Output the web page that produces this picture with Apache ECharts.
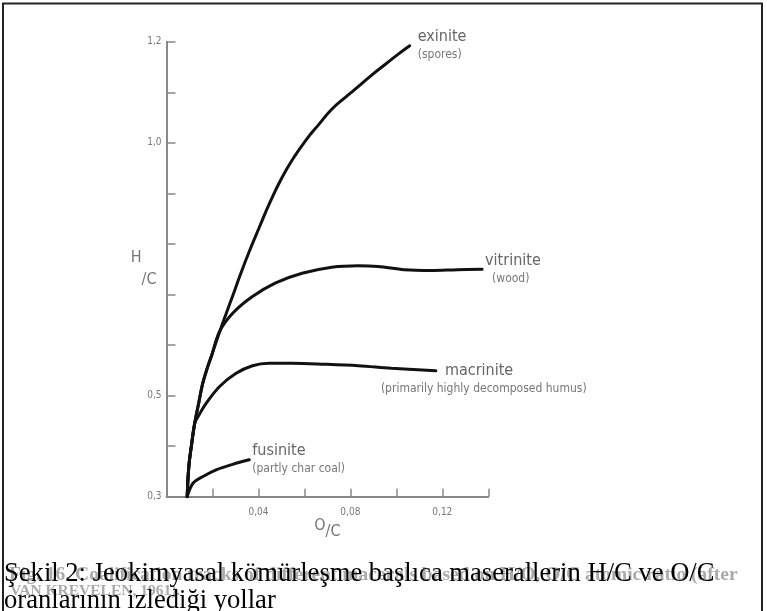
<!DOCTYPE html>
<html>
<head>
<meta charset="utf-8">
<script src="https://cdn.jsdelivr.net/npm/echarts@6/dist/echarts.min.js"></script>
<style>
html,body{margin:0;padding:0;background:#fff;}
#c{width:767px;height:611px;}
</style>
</head>
<body>
<div id="c"></div>
<script>
// ---- data (O/C, H/C atomic ratios) ----
const exiniteOC = [0.009, 0.0097, 0.0110, 0.0123, 0.0140, 0.0157, 0.0175, 0.0196, 0.0231, 0.0261, 0.0287, 0.0321, 0.0360, 0.0403, 0.0450, 0.0502, 0.0554, 0.0606, 0.0662, 0.0718, 0.0778, 0.0834, 0.0890, 0.0951, 0.1007, 0.1058];
const exiniteHC = [0.300, 0.359, 0.406, 0.446, 0.485, 0.523, 0.551, 0.579, 0.626, 0.664, 0.696, 0.739, 0.785, 0.832, 0.882, 0.931, 0.971, 1.005, 1.036, 1.066, 1.090, 1.111, 1.133, 1.155, 1.175, 1.192];

const vitriniteOC = [0.009, 0.0097, 0.0110, 0.0123, 0.0140, 0.0157, 0.0175, 0.0196, 0.0231, 0.0288, 0.0374, 0.0475, 0.059, 0.0719, 0.0834, 0.092, 0.1035, 0.115, 0.1265, 0.1373];
const vitriniteHC = [0.300, 0.359, 0.406, 0.446, 0.485, 0.523, 0.551, 0.579, 0.627, 0.663, 0.696, 0.723, 0.742, 0.754, 0.757, 0.7555, 0.749, 0.7475, 0.749, 0.750];

const macriniteOC = [0.009, 0.0097, 0.0110, 0.0123, 0.0137, 0.0173, 0.0231, 0.0303, 0.0374, 0.0446, 0.0547, 0.069, 0.0834, 0.0978, 0.1172];
const macriniteHC = [0.300, 0.359, 0.406, 0.446, 0.458, 0.485, 0.518, 0.544, 0.559, 0.564, 0.564, 0.562, 0.559, 0.554, 0.549];

const fusiniteOC = [0.009, 0.0116, 0.0159, 0.0216, 0.0288, 0.036];
const fusiniteHC = [0.300, 0.327, 0.340, 0.353, 0.364, 0.373];

const seriesNames = ['exinite', 'vitrinite', 'macrinite', 'fusinite'];
const seriesNotes = ['(spores)', '(wood)', '(primarily highly decomposed humus)', '(partly char coal)'];

const yLabelValues = [0.3, 0.5, 1.0, 1.2];
const yLabelTexts  = ['0,3', '0,5', '1,0', '1,2'];
const xLabelValues = [0.04, 0.08, 0.12];
const xLabelTexts  = ['0,04', '0,08', '0,12'];

const captionFaded1 = 'Fig. 16. Coalification tracks of different macerals based on H/O, O/C atomic ratio (after';
const captionFaded2 = 'VAN KREVELEN, 1961).';
const caption1 = 'Şekil 2: Jeokimyasal kömürleşme başlıca maserallerin H/C ve O/C';
const caption2 = 'oranlarının izlediği yollar';

// ---- chart ----
const FONT = "'DejaVu Sans Condensed', 'Liberation Sans Narrow', 'DejaVu Sans', sans-serif";
const GRAY = '#777';
const zip = (xs, ys) => xs.map((x, i) => [x, ys[i]]);
const lookup = (vals, texts) => v => {
  for (let i = 0; i < vals.length; i++) if (Math.abs(v - vals[i]) < 1e-6) return texts[i];
  return '';
};

const labelRich = {
  n: {fontFamily: FONT, fontSize: 16, color: '#666', lineHeight: 19},
  d: {fontFamily: FONT, fontSize: 12, color: '#777', lineHeight: 17},
  nm: {fontFamily: FONT, fontSize: 16, color: '#666', lineHeight: 19, padding: [0, 0, 0, 64]},
  dw: {fontFamily: FONT, fontSize: 12, color: '#777', lineHeight: 17, padding: [0, 0, 0, 7]}
};
const endLabels = [
  {fmt: '{n|' + seriesNames[0] + '}\n{d|' + seriesNotes[0] + '}', offset: [8, 0]},
  {fmt: '{n|' + seriesNames[1] + '}\n{dw|' + seriesNotes[1] + '}', offset: [3, 0]},
  {fmt: '{nm|' + seriesNames[2] + '}\n{d|' + seriesNotes[2] + '}', offset: [-55, 9]},
  {fmt: '{n|' + seriesNames[3] + '}\n{d|' + seriesNotes[3] + '}', offset: [3, 0]}
];
const smoothness = [0.5, 0.35, 0.35, 0.35];
const datas = [zip(exiniteOC, exiniteHC), zip(vitriniteOC, vitriniteHC), zip(macriniteOC, macriniteHC), zip(fusiniteOC, fusiniteHC)];

const chart = echarts.init(document.getElementById('c'), null, {renderer: 'canvas'});
chart.setOption({
  backgroundColor: '#fff',
  animation: false,
  grid: {left: 166.5, right: 278.7, top: 41.7, bottom: 114.3, containLabel: false},
  xAxis: {
    type: 'value', min: 0, max: 0.14, interval: 0.02,
    name: '{a|O}{b|/C}', nameLocation: 'middle', nameGap: 21, nameMoveOverlap: false,
    nameTextStyle: {rich: {
      a: {fontFamily: FONT, fontSize: 16, color: GRAY, verticalAlign: 'top', lineHeight: 22},
      b: {fontFamily: FONT, fontSize: 16, color: GRAY, verticalAlign: 'bottom', lineHeight: 22}
    }},
    axisLine: {show: true, onZero: false, lineStyle: {color: '#888', width: 2}},
    axisTick: {show: true, inside: true, length: 8, lineStyle: {color: '#888', width: 1.5}},
    axisLabel: {formatter: lookup(xLabelValues, xLabelTexts), margin: 11, fontFamily: FONT, fontSize: 10, color: GRAY},
    splitLine: {show: false}
  },
  yAxis: {
    type: 'value', min: 0.3, max: 1.2, interval: 0.1,
    name: '{a|H}{b|/C}', nameLocation: 'middle', nameRotate: 0, nameGap: 10, nameMoveOverlap: false,
    nameTextStyle: {align: 'right', rich: {
      a: {fontFamily: FONT, fontSize: 16, color: GRAY, verticalAlign: 'top', lineHeight: 38},
      b: {fontFamily: FONT, fontSize: 16, color: GRAY, verticalAlign: 'bottom', lineHeight: 38}
    }},
    axisLine: {show: true, onZero: false, lineStyle: {color: '#888', width: 2}},
    axisTick: {show: true, inside: true, length: 9, lineStyle: {color: '#888', width: 1.5}},
    axisLabel: {formatter: lookup(yLabelValues, yLabelTexts), margin: 5, fontFamily: FONT, fontSize: 10, color: GRAY},
    splitLine: {show: false}
  },
  series: seriesNames.map((nm, i) => ({
    name: nm, type: 'line', data: datas[i], smooth: smoothness[i],
    showSymbol: false, symbol: 'none', silent: true,
    lineStyle: {color: '#111', width: 3, cap: 'round'},
    endLabel: {show: true, formatter: endLabels[i].fmt, rich: labelRich, distance: 0,
      offset: endLabels[i].offset, align: 'left', verticalAlign: 'middle'}
  })),
  graphic: [
    {type: 'rect', shape: {x: 3, y: 3.5, width: 759, height: 640}, style: {fill: 'none', stroke: '#222', lineWidth: 2}, z: 10},
    {type: 'text', x: 9, y: 565, z: 5, style: {text: captionFaded1, font: "bold 19.5px 'Liberation Serif', 'DejaVu Serif', serif", fill: '#aaa'}},
    {type: 'text', x: 10, y: 583, z: 5, style: {text: captionFaded2, font: "bold 15.5px 'Liberation Serif', 'DejaVu Serif', serif", fill: '#aaa'}},
    {type: 'text', x: 4, y: 561, z: 6, style: {text: caption1, font: "26.6px 'Liberation Serif', 'Times New Roman', serif", fill: '#000'}},
    {type: 'text', x: 4, y: 588, z: 6, style: {text: caption2, font: "26.6px 'Liberation Serif', 'Times New Roman', serif", fill: '#000'}}
  ]
});
</script>
</body>
</html>
